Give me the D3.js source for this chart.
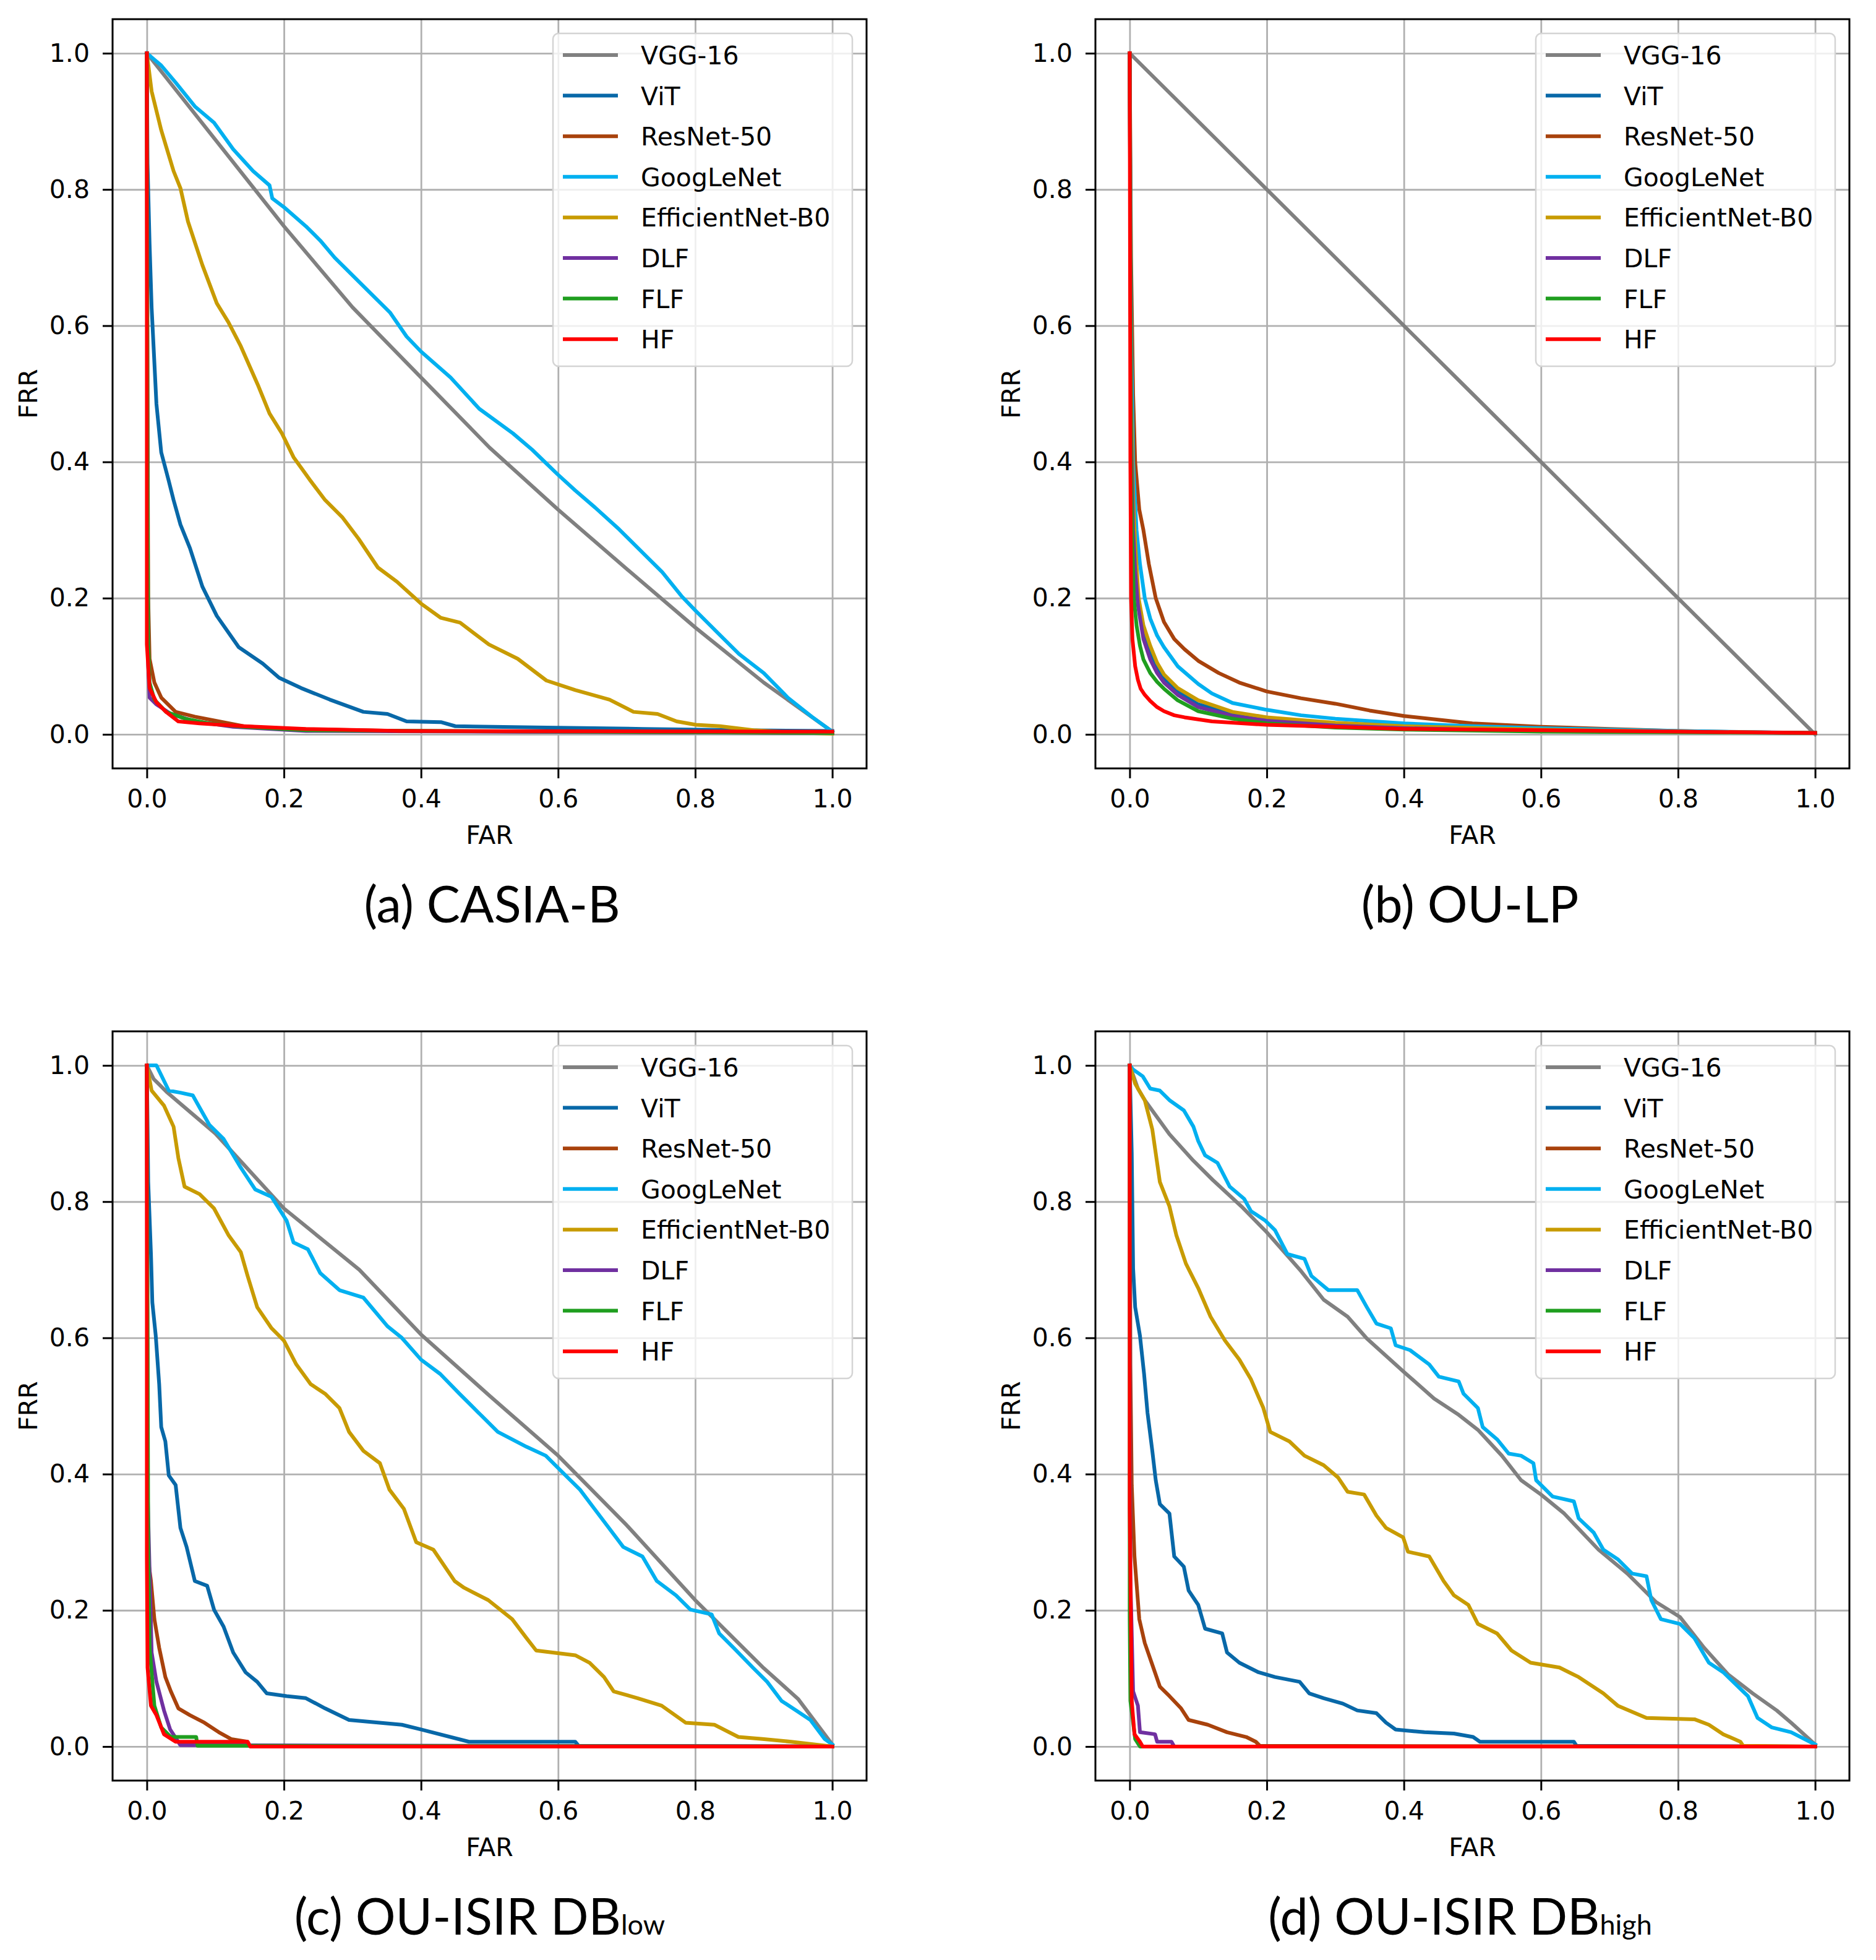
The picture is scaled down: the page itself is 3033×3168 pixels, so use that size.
<!DOCTYPE html>
<meta charset="utf-8">
<script src="https://d3js.org/d3.v7.min.js"></script>
<style>
  body { margin: 0; background: #fff; }
</style>
<body>
<div id="chart"></div>
<script>

// legend order = drawing order
const models = ["VGG-16", "ViT", "ResNet-50", "GoogLeNet", "EfficientNet-B0", "DLF", "FLF", "HF"];
const colors = ["#808080", "#0868a8", "#a8420c", "#00b0f0", "#c89b00", "#7030a0", "#1f9e1f", "#ff0000"];
const tickValues = [0, 0.2, 0.4, 0.6, 0.8, 1.0];
const captionMain = ["(a) CASIA-B", "(b) OU-LP", "(c) OU-ISIR DB", "(d) OU-ISIR DB"];
const captionSub = ["", "", "low", "high"];

// (a) CASIA-B  [FAR, FRR]
const casiaVGG = [[0,1],[0.1,0.873],[0.2,0.746],[0.3,0.627],[0.4,0.524],[0.5,0.421],[0.6,0.33],[0.7,0.243],[0.8,0.157],[0.9,0.076],[1,0.004]];
const casiaViT = [[0,1],[0.001,0.838],[0.004,0.72],[0.007,0.626],[0.014,0.485],[0.021,0.414],[0.032,0.372],[0.039,0.344],[0.049,0.308],[0.063,0.273],[0.081,0.217],[0.102,0.174],[0.134,0.128],[0.169,0.104],[0.193,0.083],[0.225,0.068],[0.267,0.051],[0.316,0.033],[0.351,0.03],[0.379,0.019],[0.429,0.018],[0.45,0.012],[0.583,0.01],[0.724,0.008],[0.864,0.006],[1,0.005]];
const casiaResNet = [[0,1],[0.001,0.5],[0.002,0.2],[0.004,0.111],[0.011,0.076],[0.021,0.054],[0.042,0.033],[0.07,0.026],[0.105,0.019],[0.141,0.012],[0.197,0.008],[0.372,0.005],[1,0.002]];
const casiaGoog = [[0,1],[0.021,0.982],[0.042,0.957],[0.07,0.922],[0.098,0.898],[0.126,0.859],[0.155,0.827],[0.179,0.806],[0.183,0.787],[0.2,0.774],[0.232,0.746],[0.253,0.725],[0.274,0.7],[0.309,0.665],[0.337,0.637],[0.355,0.619],[0.379,0.584],[0.4,0.562],[0.443,0.524],[0.485,0.478],[0.534,0.442],[0.562,0.418],[0.599,0.382],[0.625,0.358],[0.654,0.333],[0.689,0.301],[0.717,0.273],[0.752,0.238],[0.78,0.203],[0.801,0.181],[0.829,0.153],[0.864,0.118],[0.9,0.09],[0.935,0.054],[0.97,0.026],[1,0.004]];
const casiaEff = [[0,1],[0.007,0.944],[0.021,0.887],[0.039,0.827],[0.049,0.802],[0.06,0.753],[0.081,0.689],[0.102,0.633],[0.119,0.605],[0.137,0.57],[0.162,0.513],[0.179,0.471],[0.197,0.442],[0.214,0.407],[0.239,0.372],[0.26,0.344],[0.285,0.319],[0.309,0.287],[0.337,0.245],[0.365,0.224],[0.4,0.192],[0.429,0.171],[0.457,0.164],[0.499,0.132],[0.541,0.111],[0.583,0.079],[0.625,0.065],[0.675,0.051],[0.71,0.033],[0.745,0.03],[0.773,0.019],[0.801,0.014],[0.836,0.012],[0.885,0.006],[0.935,0.003],[1,0.001]];
const casiaDLF = [[0,1],[0.001,0.3],[0.002,0.1],[0.004,0.054],[0.014,0.044],[0.035,0.03],[0.07,0.019],[0.126,0.011],[0.232,0.005],[1,0.002]];
const casiaFLF = [[0,1],[0.001,0.4],[0.002,0.13],[0.004,0.076],[0.011,0.051],[0.028,0.033],[0.056,0.023],[0.091,0.016],[0.141,0.011],[0.232,0.006],[1,0.002]];
const casiaHF = [[0,1],[0,0.132],[0.004,0.068],[0.014,0.047],[0.028,0.033],[0.046,0.019],[0.077,0.016],[0.141,0.012],[0.232,0.008],[0.372,0.005],[1,0.004]];

// (b) OU-LP
const oulpVGG = [[0,1],[0.5,0.5],[1,0]];
const oulpViT = [[0,1],[0.002,0.48],[0.005,0.33],[0.008,0.26],[0.012,0.2],[0.02,0.15],[0.03,0.12],[0.04,0.098],[0.05,0.082],[0.07,0.062],[0.1,0.044],[0.15,0.03],[0.2,0.022],[0.3,0.015],[0.4,0.011],[0.6,0.006],[1,0.002]];
const oulpResNet = [[0,1],[0.002,0.7],[0.005,0.5],[0.008,0.4],[0.014,0.33],[0.02,0.3],[0.028,0.25],[0.038,0.2],[0.05,0.165],[0.065,0.14],[0.08,0.125],[0.1,0.108],[0.13,0.09],[0.16,0.076],[0.2,0.063],[0.25,0.053],[0.3,0.045],[0.35,0.035],[0.4,0.027],[0.5,0.016],[0.6,0.011],[0.7,0.008],[0.8,0.005],[0.9,0.003],[1,0.002]];
const oulpGoog = [[0,1],[0.002,0.6],[0.005,0.4],[0.01,0.3],[0.015,0.25],[0.022,0.2],[0.03,0.17],[0.04,0.145],[0.05,0.128],[0.07,0.1],[0.1,0.074],[0.12,0.06],[0.15,0.046],[0.2,0.036],[0.25,0.028],[0.3,0.023],[0.4,0.016],[0.5,0.012],[0.6,0.009],[0.8,0.005],[1,0.002]];
const oulpEff = [[0,1],[0.002,0.5],[0.005,0.35],[0.008,0.28],[0.013,0.2],[0.02,0.16],[0.03,0.13],[0.04,0.105],[0.05,0.088],[0.07,0.068],[0.1,0.05],[0.15,0.033],[0.2,0.025],[0.3,0.017],[0.4,0.012],[0.6,0.007],[0.8,0.004],[1,0.002]];
const oulpDLF = [[0,1],[0.002,0.45],[0.005,0.3],[0.008,0.24],[0.012,0.19],[0.02,0.14],[0.03,0.11],[0.04,0.09],[0.05,0.076],[0.07,0.058],[0.1,0.04],[0.15,0.027],[0.2,0.02],[0.3,0.013],[0.4,0.009],[0.6,0.005],[1,0.002]];
const oulpFLF = [[0,1],[0.002,0.4],[0.004,0.28],[0.006,0.2],[0.01,0.16],[0.015,0.13],[0.02,0.11],[0.03,0.09],[0.04,0.077],[0.05,0.067],[0.07,0.05],[0.1,0.034],[0.15,0.023],[0.2,0.016],[0.3,0.01],[0.4,0.007],[0.6,0.004],[1,0.002]];
const oulpHF = [[0,1],[0.001,0.4],[0.002,0.2],[0.004,0.14],[0.008,0.1],[0.012,0.08],[0.016,0.067],[0.022,0.058],[0.03,0.049],[0.04,0.04],[0.05,0.034],[0.065,0.028],[0.08,0.025],[0.12,0.019],[0.2,0.014],[0.3,0.011],[0.4,0.008],[0.6,0.006],[0.8,0.004],[1,0.002]];

// (c) OU-ISIR DB low
const lowVGG = [[0,1],[0.01,0.98],[0.03,0.96],[0.1,0.9],[0.2,0.79],[0.31,0.7],[0.4,0.605],[0.5,0.515],[0.6,0.427],[0.7,0.325],[0.8,0.215],[0.9,0.115],[0.95,0.07],[1,0.003]];
const lowViT = [[0,1],[0.002,0.829],[0.006,0.723],[0.008,0.652],[0.013,0.603],[0.018,0.532],[0.021,0.469],[0.027,0.448],[0.032,0.398],[0.042,0.384],[0.049,0.321],[0.058,0.293],[0.07,0.243],[0.088,0.236],[0.098,0.201],[0.112,0.176],[0.126,0.138],[0.144,0.109],[0.161,0.095],[0.175,0.078],[0.204,0.074],[0.232,0.071],[0.26,0.056],[0.295,0.039],[0.372,0.032],[0.4,0.025],[0.47,0.007],[0.625,0.007],[0.63,0.001],[1,0]];
const lowResNet = [[0,1],[0.001,0.5],[0.0014,0.279],[0.006,0.243],[0.011,0.187],[0.018,0.145],[0.027,0.102],[0.035,0.081],[0.046,0.056],[0.063,0.046],[0.084,0.035],[0.105,0.021],[0.123,0.011],[0.147,0.007],[0.15,0.001],[1,0]];
const lowGoog = [[0,1],[0.014,1],[0.032,0.963],[0.049,0.96],[0.067,0.956],[0.077,0.938],[0.091,0.913],[0.112,0.892],[0.137,0.85],[0.158,0.818],[0.182,0.807],[0.204,0.772],[0.214,0.74],[0.235,0.73],[0.253,0.695],[0.281,0.67],[0.316,0.659],[0.351,0.617],[0.372,0.6],[0.4,0.568],[0.428,0.547],[0.456,0.518],[0.484,0.49],[0.512,0.462],[0.554,0.44],[0.582,0.427],[0.611,0.398],[0.632,0.377],[0.653,0.349],[0.674,0.321],[0.695,0.293],[0.723,0.279],[0.744,0.243],[0.772,0.222],[0.793,0.201],[0.824,0.194],[0.835,0.166],[0.856,0.145],[0.884,0.116],[0.905,0.095],[0.926,0.067],[0.947,0.053],[0.968,0.039],[0.989,0.011],[1,0.003]];
const lowEff = [[0,1],[0.007,0.963],[0.025,0.941],[0.039,0.91],[0.046,0.864],[0.055,0.822],[0.077,0.811],[0.098,0.79],[0.119,0.751],[0.137,0.726],[0.147,0.691],[0.161,0.645],[0.182,0.614],[0.2,0.596],[0.218,0.561],[0.239,0.532],[0.26,0.518],[0.281,0.497],[0.295,0.462],[0.316,0.434],[0.34,0.416],[0.354,0.377],[0.375,0.349],[0.393,0.3],[0.418,0.289],[0.449,0.243],[0.463,0.233],[0.498,0.215],[0.533,0.187],[0.554,0.159],[0.568,0.141],[0.625,0.134],[0.646,0.123],[0.667,0.102],[0.681,0.081],[0.716,0.071],[0.751,0.06],[0.786,0.035],[0.828,0.032],[0.863,0.014],[0.898,0.011],[0.94,0.007],[1,0]];
const lowDLF = [[0,1],[0.001,0.377],[0.007,0.138],[0.014,0.095],[0.025,0.053],[0.034,0.025],[0.049,0.002],[1,0]];
const lowFLF = [[0,1],[0.002,0.3],[0.004,0.145],[0.011,0.06],[0.021,0.028],[0.035,0.014],[0.072,0.014],[0.074,0.001],[0.144,0.001],[1,0]];
const lowHF = [[0,1],[0,0.28],[0.001,0.116],[0.006,0.06],[0.014,0.046],[0.025,0.018],[0.042,0.007],[0.147,0.007],[0.151,0],[1,0]];

// (d) OU-ISIR DB high
const highVGG = [[0,1],[0.012,0.966],[0.022,0.949],[0.058,0.899],[0.093,0.86],[0.121,0.832],[0.163,0.793],[0.2,0.755],[0.25,0.698],[0.283,0.656],[0.318,0.631],[0.346,0.599],[0.4,0.55],[0.444,0.511],[0.48,0.487],[0.508,0.465],[0.543,0.427],[0.571,0.391],[0.6,0.37],[0.634,0.342],[0.684,0.289],[0.726,0.254],[0.768,0.212],[0.803,0.19],[0.838,0.145],[0.873,0.106],[0.909,0.078],[0.944,0.053],[0.965,0.035],[1,0.003]];
const highViT = [[0,1],[0.003,0.871],[0.005,0.702],[0.008,0.645],[0.015,0.603],[0.021,0.547],[0.026,0.49],[0.033,0.434],[0.038,0.391],[0.044,0.356],[0.058,0.342],[0.065,0.279],[0.079,0.264],[0.086,0.229],[0.1,0.208],[0.11,0.173],[0.135,0.166],[0.142,0.138],[0.16,0.123],[0.188,0.109],[0.212,0.102],[0.248,0.095],[0.262,0.078],[0.283,0.071],[0.311,0.063],[0.332,0.053],[0.36,0.049],[0.374,0.035],[0.388,0.025],[0.43,0.021],[0.473,0.019],[0.501,0.014],[0.511,0.007],[0.648,0.007],[0.652,0.001],[1,0]];
const highResNet = [[0,1],[0.001,0.56],[0.003,0.384],[0.007,0.279],[0.014,0.187],[0.022,0.152],[0.033,0.12],[0.044,0.088],[0.058,0.074],[0.075,0.056],[0.086,0.039],[0.114,0.032],[0.142,0.021],[0.17,0.014],[0.184,0.007],[0.19,0.001],[1,0]];
const highGoog = [[0,1],[0.005,0.994],[0.019,0.984],[0.03,0.966],[0.044,0.963],[0.058,0.949],[0.079,0.934],[0.093,0.91],[0.1,0.889],[0.11,0.868],[0.128,0.857],[0.146,0.822],[0.167,0.804],[0.177,0.786],[0.198,0.772],[0.212,0.758],[0.23,0.723],[0.255,0.716],[0.265,0.691],[0.29,0.67],[0.332,0.67],[0.346,0.645],[0.36,0.621],[0.381,0.614],[0.388,0.589],[0.409,0.582],[0.437,0.561],[0.451,0.543],[0.48,0.536],[0.487,0.518],[0.508,0.497],[0.515,0.469],[0.536,0.451],[0.553,0.43],[0.571,0.427],[0.589,0.416],[0.593,0.391],[0.617,0.367],[0.648,0.36],[0.655,0.335],[0.677,0.314],[0.691,0.289],[0.712,0.275],[0.733,0.254],[0.754,0.25],[0.761,0.215],[0.775,0.187],[0.803,0.18],[0.824,0.159],[0.845,0.123],[0.866,0.109],[0.902,0.074],[0.916,0.042],[0.937,0.028],[0.965,0.021],[1,0.003]];
const highEff = [[0,1],[0.008,0.973],[0.022,0.949],[0.033,0.906],[0.044,0.829],[0.058,0.793],[0.068,0.751],[0.082,0.709],[0.1,0.673],[0.118,0.631],[0.139,0.596],[0.16,0.568],[0.177,0.539],[0.195,0.497],[0.205,0.462],[0.233,0.448],[0.255,0.427],[0.283,0.413],[0.304,0.395],[0.318,0.374],[0.342,0.37],[0.36,0.339],[0.374,0.321],[0.399,0.307],[0.406,0.286],[0.437,0.279],[0.458,0.243],[0.473,0.222],[0.494,0.208],[0.508,0.18],[0.536,0.166],[0.557,0.141],[0.585,0.123],[0.627,0.116],[0.655,0.102],[0.691,0.078],[0.712,0.06],[0.754,0.042],[0.824,0.04],[0.845,0.032],[0.866,0.018],[0.891,0.007],[0.895,0.001],[1,0]];
const highDLF = [[0,1],[0.001,0.25],[0.005,0.081],[0.012,0.06],[0.015,0.021],[0.037,0.018],[0.04,0.007],[0.061,0.007],[0.065,0],[1,0]];
const highFLF = [[0,1],[0,0.19],[0.001,0.067],[0.008,0.011],[0.015,0],[1,0]];
const highHF = [[0,1],[0,0.35],[0.003,0.067],[0.007,0.018],[0.015,0.007],[0.019,0],[1,0]];

const seriesByPanel = [
  [casiaVGG, casiaViT, casiaResNet, casiaGoog, casiaEff, casiaDLF, casiaFLF, casiaHF],
  [oulpVGG, oulpViT, oulpResNet, oulpGoog, oulpEff, oulpDLF, oulpFLF, oulpHF],
  [lowVGG, lowViT, lowResNet, lowGoog, lowEff, lowDLF, lowFLF, lowHF],
  [highVGG, highViT, highResNet, highGoog, highEff, highDLF, highFLF, highHF]
];

// layout
var width = 1219, height = 1211;
var panelLeft = [182, 1771, 182, 1771],
    panelTop = [31, 31, 1667, 1667],
    captionDx = [4, -4, -16, -20];
var tickFont = 41;

var svg = d3.select("#chart")
  .append("svg")
    .attr("width", 3033)
    .attr("height", 3168)
    .style("display", "block")
    .style("background", "#fff");

var x = d3.scaleLinear().domain([-0.05, 1.05]).range([0, width]);
var y = d3.scaleLinear().domain([-0.05, 1.05]).range([height, 0]);

var line = d3.line()
  .x(function(d) { return x(d[0]); })
  .y(function(d) { return y(d[1]); });

svg.append("defs").append("clipPath")
    .attr("id", "plotclip")
  .append("rect")
    .attr("width", width)
    .attr("height", height);

seriesByPanel.forEach(function(series, p) {

  var g = svg.append("g")
    .attr("transform", "translate(" + panelLeft[p] + "," + panelTop[p] + ")");

  // grid
  g.append("g")
    .attr("transform", "translate(0," + height + ")")
    .call(d3.axisBottom(x).tickValues(tickValues).tickSize(-height).tickFormat(""))
    .call(function(a) { a.select(".domain").remove(); })
    .selectAll("line")
      .attr("stroke", "#b0b0b0")
      .attr("stroke-width", 2.8);

  g.append("g")
    .call(d3.axisLeft(y).tickValues(tickValues).tickSize(-width).tickFormat(""))
    .call(function(a) { a.select(".domain").remove(); })
    .selectAll("line")
      .attr("stroke", "#b0b0b0")
      .attr("stroke-width", 2.8);

  // curves
  var plot = g.append("g").attr("clip-path", "url(#plotclip)");
  series.forEach(function(pts, i) {
    plot.append("path")
      .datum(pts)
      .attr("fill", "none")
      .attr("stroke", colors[i])
      .attr("stroke-width", 6)
      .attr("stroke-linejoin", "round")
      .attr("stroke-linecap", "square")
      .attr("d", line);
  });

  // frame
  g.append("rect")
    .attr("width", width)
    .attr("height", height)
    .attr("fill", "none")
    .attr("stroke", "#000")
    .attr("stroke-width", 3);

  // ticks + labels
  var xAxis = g.append("g")
    .attr("transform", "translate(0," + height + ")")
    .call(d3.axisBottom(x).tickValues(tickValues).tickSize(16).tickPadding(18).tickFormat(d3.format(".1f")));
  var yAxis = g.append("g")
    .call(d3.axisLeft(y).tickValues(tickValues).tickSize(16).tickPadding(21).tickFormat(d3.format(".1f")));

  [xAxis, yAxis].forEach(function(a) {
    a.select(".domain").remove();
    a.selectAll("line").attr("stroke", "#000").attr("stroke-width", 3);
    a.selectAll("text")
      .attr("fill", "#000")
      .style("font-family", "DejaVu Sans")
      .style("font-size", tickFont + "px");
  });

  g.append("text")
    .attr("x", width / 2)
    .attr("y", height + 122)
    .attr("text-anchor", "middle")
    .style("font-family", "DejaVu Sans")
    .style("font-size", tickFont + "px")
    .text("FAR");

  g.append("text")
    .attr("transform", "translate(-122," + (height / 2) + ") rotate(-90)")
    .attr("text-anchor", "middle")
    .style("font-family", "DejaVu Sans")
    .style("font-size", tickFont + "px")
    .text("FRR");

  // legend
  var lw = 484, lh = 538;
  var legend = g.append("g")
    .attr("transform", "translate(" + (width - 23 - lw) + ",23)");
  legend.append("rect")
    .attr("width", lw)
    .attr("height", lh)
    .attr("rx", 9)
    .attr("fill", "#fff")
    .attr("fill-opacity", 0.8)
    .attr("stroke", "#d4d4d4")
    .attr("stroke-width", 2.5);
  models.forEach(function(m, i) {
    var ry = 35 + i * 65.6;
    legend.append("line")
      .attr("x1", 16).attr("x2", 105)
      .attr("y1", ry).attr("y2", ry)
      .attr("stroke", colors[i])
      .attr("stroke-width", 6);
    legend.append("text")
      .attr("x", 142)
      .attr("y", ry + 15)
      .style("font-family", "DejaVu Sans")
      .style("font-size", tickFont + "px")
      .text(m);
  });

  // caption under the panel
  var cap = g.append("text")
    .attr("x", width / 2 + captionDx[p])
    .attr("y", height + 249)
    .attr("text-anchor", "middle")
    .style("font-family", "Lato")
    .style("font-size", "81px")
    .attr("fill", "#000");
  cap.append("tspan").text(captionMain[p]);
  if (captionSub[p]) {
    cap.append("tspan").style("font-size", "45px").text(captionSub[p]);
  }
});

</script>
</body>
